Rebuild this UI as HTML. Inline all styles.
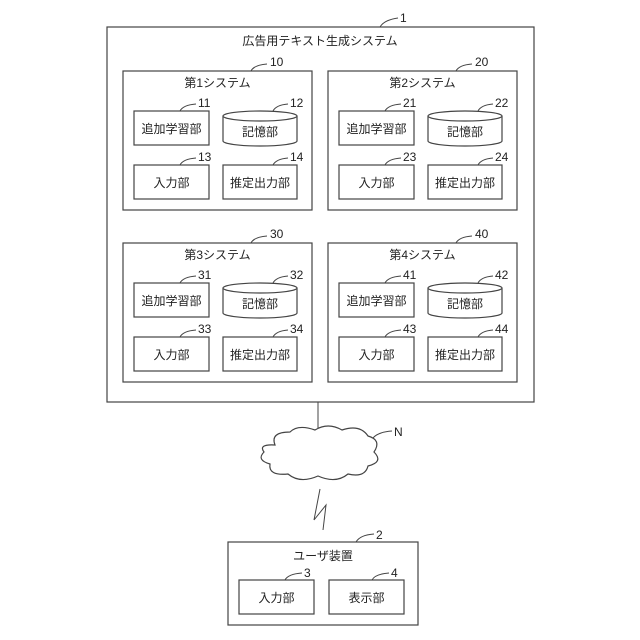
<!DOCTYPE html>
<html><head><meta charset="utf-8"><style>
html,body{margin:0;padding:0;background:#fff;}
svg{display:block;}
text{font-family:"Liberation Sans","Noto Sans CJK JP",sans-serif;fill:#222;}
.b{fill:#fff;stroke:#444;stroke-width:1.2;}
.l{fill:none;stroke:#444;stroke-width:1;}
</style></head><body>
<svg width="640" height="640" viewBox="0 0 640 640" xmlns="http://www.w3.org/2000/svg">
<defs>
<g id="sys">
  <rect class="b" x="0" y="0" width="189" height="139"/>
  <rect class="b" x="11" y="40" width="75" height="34"/>
  <path class="b" d="M100,45 L100,70 A37,5 0 0 0 174,70 L174,45"/>
  <ellipse class="b" cx="137" cy="45" rx="37" ry="5"/>
  <rect class="b" x="11" y="94" width="75" height="34"/>
  <rect class="b" x="100" y="94" width="74" height="34"/>
  <text x="48.5" y="62" font-size="12" text-anchor="middle">追加学習部</text>
  <text x="137" y="65" font-size="12" text-anchor="middle">記憶部</text>
  <text x="48.5" y="116" font-size="12" text-anchor="middle">入力部</text>
  <text x="137" y="116" font-size="12" text-anchor="middle">推定出力部</text>
  <path class="l" d="M57,40 Q60,34 73,33"/>
  <path class="l" d="M150,40 Q153,34 165,33"/>
  <path class="l" d="M57,94 Q60,88 73,87"/>
  <path class="l" d="M150,94 Q153,88 165,87"/>
  <path class="l" d="M128,0 Q131,-6 144,-7"/>
</g>
</defs>
<rect class="b" x="107" y="27" width="427" height="375"/>
<path class="l" d="M380,27 Q384,20 398,18"/>
<text x="400" y="22" font-size="12">1</text>
<text x="320" y="45" font-size="12" text-anchor="middle">広告用テキスト生成システム</text>

<g transform="translate(123,71)"><use href="#sys"/>
<text x="94.5" y="16" font-size="12" text-anchor="middle">第1システム</text>
<text x="147" y="-5" font-size="12">10</text><text x="75" y="36" font-size="12">11</text><text x="167" y="36" font-size="12">12</text><text x="75" y="90" font-size="12">13</text><text x="167" y="90" font-size="12">14</text></g>

<g transform="translate(328,71)"><use href="#sys"/>
<text x="94.5" y="16" font-size="12" text-anchor="middle">第2システム</text>
<text x="147" y="-5" font-size="12">20</text><text x="75" y="36" font-size="12">21</text><text x="167" y="36" font-size="12">22</text><text x="75" y="90" font-size="12">23</text><text x="167" y="90" font-size="12">24</text></g>

<g transform="translate(123,243)"><use href="#sys"/>
<text x="94.5" y="16" font-size="12" text-anchor="middle">第3システム</text>
<text x="147" y="-5" font-size="12">30</text><text x="75" y="36" font-size="12">31</text><text x="167" y="36" font-size="12">32</text><text x="75" y="90" font-size="12">33</text><text x="167" y="90" font-size="12">34</text></g>

<g transform="translate(328,243)"><use href="#sys"/>
<text x="94.5" y="16" font-size="12" text-anchor="middle">第4システム</text>
<text x="147" y="-5" font-size="12">40</text><text x="75" y="36" font-size="12">41</text><text x="167" y="36" font-size="12">42</text><text x="75" y="90" font-size="12">43</text><text x="167" y="90" font-size="12">44</text></g>

<!-- network -->
<line class="l" x1="318" y1="402" x2="318" y2="433"/>
<path class="b" d="M275,445 Q270,432 290,432 Q298,424 315,430 Q328,422 342,430 Q360,424 368,436 Q382,440 374,452 Q384,462 368,466 Q365,478 348,474 Q336,484 318,476 Q300,484 288,474 Q268,476 270,464 Q256,460 264,452 Q258,444 275,445 Z"/>
<path class="l" d="M373,438 Q378,432 392,431"/>
<text x="394" y="436" font-size="12">N</text>
<path class="l" d="M320,489 L314,520 L326,505 L323,530"/>

<rect class="b" x="228" y="542" width="190" height="83"/>
<path class="l" d="M356,542 Q360,535 374,534"/>
<text x="376" y="539" font-size="12">2</text>
<text x="323" y="560" font-size="12" text-anchor="middle">ユーザ装置</text>
<rect class="b" x="239" y="580" width="75" height="34"/>
<rect class="b" x="329" y="580" width="75" height="34"/>
<text x="276.5" y="602" font-size="12" text-anchor="middle">入力部</text>
<text x="366.5" y="602" font-size="12" text-anchor="middle">表示部</text>
<path class="l" d="M285,580 Q288,574 302,573"/>
<text x="304" y="577" font-size="12">3</text>
<path class="l" d="M372,580 Q375,574 389,573"/>
<text x="391" y="577" font-size="12">4</text>
</svg>
</body></html>
